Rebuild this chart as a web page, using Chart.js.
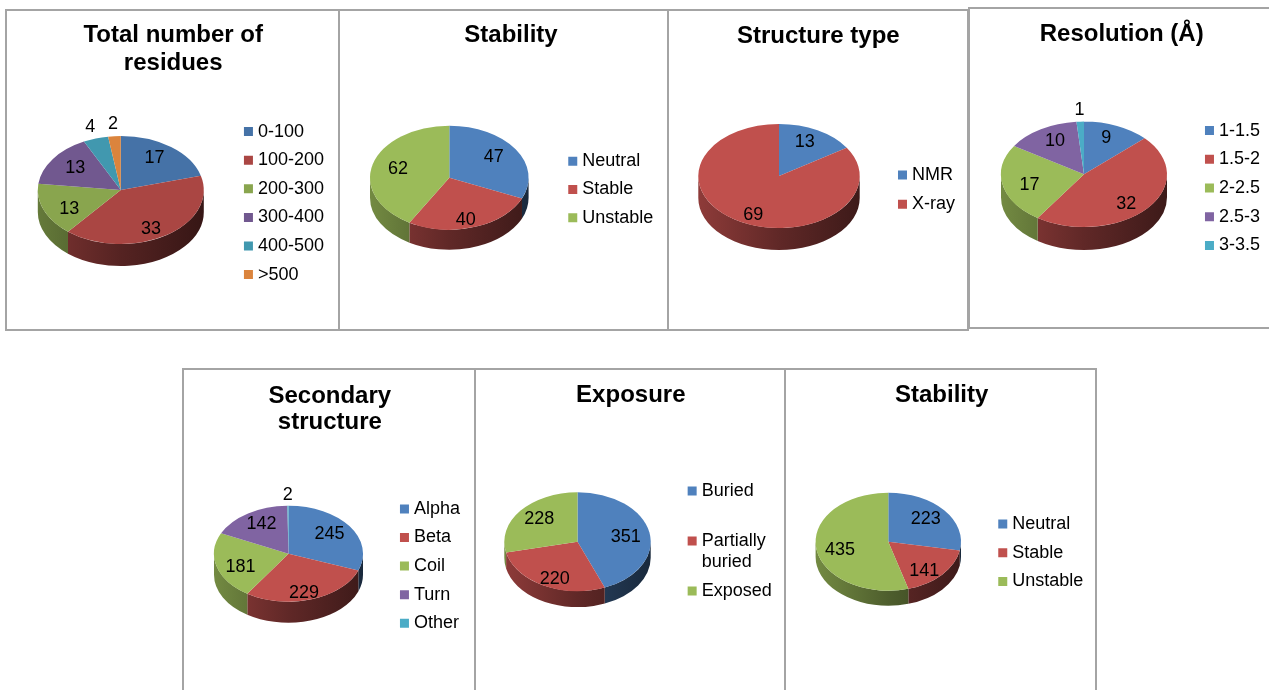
<!DOCTYPE html>
<html><head><meta charset="utf-8">
<script src="https://cdn.jsdelivr.net/npm/chart.js@4.4.1/dist/chart.umd.min.js"></script>
<style>
html,body{margin:0;padding:0;background:#fff;overflow:hidden;width:1269px;height:690px;}
.panel{position:absolute;box-sizing:border-box;border:2px solid #a4a4a4;background:#fff;overflow:hidden;}
.panel canvas{position:absolute;left:0;top:0;}
</style></head><body>
<script>
// ---------- data ----------
const residueLabels = ['0-100', '100-200', '200-300', '300-400', '400-500', '>500'];
const residueValues = [17, 33, 13, 13, 4, 2];

const stabilityLabels = ['Neutral', 'Stable', 'Unstable'];
const stabilityProteinValues = [47, 40, 62];

const structureLabels = ['NMR', 'X-ray'];
const structureValues = [13, 69];

const resolutionLabels = ['1-1.5', '1.5-2', '2-2.5', '2.5-3', '3-3.5'];
const resolutionValues = [9, 32, 17, 10, 1];

const secondaryLabels = ['Alpha', 'Beta', 'Coil', 'Turn', 'Other'];
const secondaryValues = [245, 229, 181, 142, 2];

const exposureLabels = ['Buried', ['Partially', 'buried'], 'Exposed'];
const exposureValues = [351, 220, 228];

const stabilityResidueValues = [223, 141, 435];

// ---------- styles ----------
const FONT = "'Liberation Sans', Arial, Helvetica, sans-serif";
const paletteDark = ['#4572A7', '#AA4643', '#89A54E', '#71588F', '#4198AF', '#DB843D'];
const paletteStd = ['#4F81BD', '#C0504D', '#9BBB59', '#8064A2', '#4BACC6', '#F79646'];

Chart.defaults.font.family = FONT;

function shade(hex, f) {
  const n = parseInt(hex.slice(1), 16);
  const r = Math.round(((n >> 16) & 255) * f);
  const g = Math.round(((n >> 8) & 255) * f);
  const b = Math.round((n & 255) * f);
  return 'rgb(' + r + ',' + g + ',' + b + ')';
}

function drawSide(ctx, o, lo, hi, color) {
  ctx.save();
  ctx.beginPath();
  ctx.ellipse(o.cx, o.cy, o.a, o.b, 0, lo, hi, false);
  ctx.ellipse(o.cx, o.cy + o.depth, o.a, o.b, 0, hi, lo, true);
  ctx.closePath();
  const g = ctx.createLinearGradient(o.cx - o.a, 0, o.cx + o.a, 0);
  g.addColorStop(0, shade(color, 0.74));
  g.addColorStop(0.5, shade(color, 0.5));
  g.addColorStop(1, shade(color, 0.32));
  ctx.fillStyle = g;
  ctx.fill();
  ctx.restore();
}

// Plugin: tilts the library's pie into an ellipse with a 3D rim and writes value labels
const pie3d = {
  id: 'pie3d',
  beforeDatasetsDraw(chart, args, o) {
    const arcs = chart.getDatasetMeta(0).data;
    if (!arcs.length) return;
    const ctx = chart.ctx;
    arcs.forEach(arc => {
      const s = arc.startAngle, e = arc.endAngle;
      const color = arc.options.backgroundColor;
      for (const k of [-2, 0, 2]) {
        const lo = Math.max(s, k * Math.PI), hi = Math.min(e, (k + 1) * Math.PI);
        if (hi > lo) drawSide(ctx, o, lo, hi, color);
      }
    });
    const x0 = arcs[0].x, y0 = arcs[0].y, R = arcs[0].outerRadius;
    ctx.save();
    ctx.translate(o.cx, o.cy);
    ctx.scale(o.a / R, o.b / R);
    ctx.translate(-x0, -y0);
  },
  afterDatasetsDraw(chart, args, o) {
    const ctx = chart.ctx;
    ctx.restore();
    const arcs = chart.getDatasetMeta(0).data;
    const vals = chart.data.datasets[0].data;
    ctx.save();
    ctx.font = '18px ' + FONT;
    ctx.fillStyle = '#000';
    ctx.textAlign = 'center';
    ctx.textBaseline = 'middle';
    arcs.forEach((arc, i) => {
      const s = arc.startAngle, e = arc.endAngle;
      const m = (s + e) / 2;
      const frac = (e - s) / (2 * Math.PI);
      let fx = o.fx, fy = o.fy, dy = o.dy;
      if (frac < o.outside) { fx = o.outR; fy = o.outR; dy = 0; }
      ctx.fillText(String(vals[i]), o.cx + o.a * fx * Math.cos(m), o.cy + dy + o.b * fy * Math.sin(m));
    });
    ctx.restore();
  }
};

function legendLabels(chart) {
  const items = Chart.overrides.doughnut.plugins.legend.labels.generateLabels(chart);
  const maxLines = Math.max(...items.map(it => Array.isArray(it.text) ? it.text.length : 1));
  if (maxLines > 1) {
    items.forEach(it => {
      const t = Array.isArray(it.text) ? it.text.slice() : [it.text];
      while (t.length < maxLines) t.push('');
      it.text = t;
    });
  }
  return items;
}

// ---------- layout of the seven panels ----------
const panels = [
  { box: [5, 9, 335, 322], title: ['Total number of', 'residues'], labels: residueLabels, values: residueValues, colors: paletteDark,
    titleLH: 28 / 24, titleTop: 10.2, pad: { left: 5.4, right: 4, bottom: -5.4 }, legendPad: 10.6,
    pie: { cx: 113.8, cy: 179, a: 83, b: 54, depth: 22 } },
  { box: [338, 9, 331, 322], title: 'Stability', labels: stabilityLabels, values: stabilityProteinValues, colors: paletteStd,
    titleLH: 1.2, titleTop: 10.1, pad: { left: 18.7, right: 3.7, bottom: -4.9 }, legendPad: 10.3,
    pie: { cx: 109.3, cy: 166.7, a: 79.3, b: 52, depth: 20 } },
  { box: [667, 9, 302, 322], title: 'Structure type', labels: structureLabels, values: structureValues, colors: paletteStd,
    titleLH: 1.2, titleTop: 10.5, pad: { left: 2.6, right: 2, bottom: -5 }, legendPad: 11.3,
    pie: { cx: 110, cy: 165, a: 80.7, b: 52, depth: 22 } },
  { box: [968, 7, 310, 322], title: 'Resolution (Å)', labels: resolutionLabels, values: resolutionValues, colors: paletteStd,
    titleLH: 1.2, titleTop: 11.2, pad: { left: 3.4, right: 6, bottom: -7.4 }, legendPad: 10.7,
    pie: { cx: 114, cy: 165.3, a: 83, b: 52.7, depth: 23 } },
  { box: [182, 368, 294, 330], title: ['Secondary', 'structure'], labels: secondaryLabels, values: secondaryValues, colors: paletteStd,
    titleLH: 26.7 / 24, titleTop: 12.8, pad: { left: 5.6, right: 4, bottom: -3 }, legendPad: 10.6,
    pie: { cx: 104.5, cy: 183.7, a: 74.5, b: 48, depth: 21 } },
  { box: [474, 368, 312, 330], title: 'Exposure', labels: exposureLabels, values: exposureValues, colors: paletteStd,
    titleLH: 1.2, titleTop: 10.6, pad: { left: 3.9, right: 2.3, bottom: -4 }, legendPad: 8.5,
    pie: { cx: 101.5, cy: 171.7, a: 73.2, b: 49.4, depth: 16 } },
  { box: [784, 368, 313, 330], title: 'Stability', labels: stabilityLabels, values: stabilityResidueValues, colors: paletteStd,
    titleLH: 1.2, titleTop: 10.6, pad: { left: 4.1, right: 1.7, bottom: -1.6 }, legendPad: 10.8,
    pie: { cx: 102.3, cy: 171.7, a: 72.7, b: 49, depth: 15 } }
];

panels.forEach(p => {
  const div = document.createElement('div');
  div.className = 'panel';
  div.style.left = p.box[0] + 'px';
  div.style.top = p.box[1] + 'px';
  div.style.width = p.box[2] + 'px';
  div.style.height = p.box[3] + 'px';
  const cv = document.createElement('canvas');
  const W = p.box[2] - 4, H = p.box[3] - 4;
  cv.width = W; cv.height = H;
  cv.style.width = W + 'px'; cv.style.height = H + 'px';
  div.appendChild(cv);
  document.body.appendChild(div);

  new Chart(cv, {
    type: 'pie',
    data: {
      labels: p.labels,
      datasets: [{ data: p.values, backgroundColor: p.colors.slice(0, p.values.length), borderWidth: 0, clip: false }]
    },
    options: {
      responsive: false,
      animation: false,
      devicePixelRatio: 1,
      events: [],
      layout: { padding: { left: p.pad.left, right: p.pad.right, top: 0, bottom: p.pad.bottom } },
      plugins: {
        title: {
          display: true, text: p.title, color: '#000',
          font: { size: 24, weight: 'bold', family: FONT, lineHeight: p.titleLH },
          padding: { top: p.titleTop, bottom: 0 }
        },
        legend: {
          position: 'right', fullSize: false,
          labels: {
            usePointStyle: true, pointStyle: 'rect', boxWidth: 1, boxHeight: 9,
            padding: p.legendPad, color: '#000',
            font: { size: 18, family: FONT, lineHeight: 1.15 },
            generateLabels: legendLabels
          }
        },
        tooltip: { enabled: false },
        pie3d: Object.assign({ fx: 0.67, fy: 0.8, dy: 2.5, outR: 1.22, outside: 0.08 }, p.pie)
      }
    },
    plugins: [pie3d]
  });
});
</script>
</body></html>
